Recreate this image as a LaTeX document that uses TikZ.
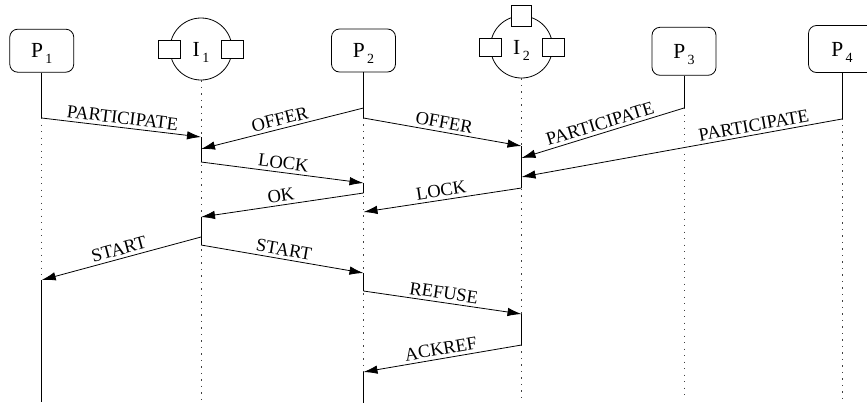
\documentclass[tikz,border=0pt]{standalone}
\usepackage{fontspec}
\setmainfont{Liberation Serif}
\usetikzlibrary{arrows.meta}

% actor name with a lowered index
\newcommand\actorname[2]{#1\kern2.5pt\smash{\raisebox{-6pt}{\fontsize{14}{14}\selectfont #2}}}

\begin{document}
\begin{tikzpicture}[x=1pt,y=-1pt,
  pbox/.style={draw, rounded corners=8pt, line width=0.8pt, minimum width=64pt,
               inner sep=0pt, font=\fontsize{21.5}{23}\selectfont},
  ibody/.style={draw, circle, line width=0.8pt, minimum size=62pt, inner sep=0pt,
               font=\fontsize{21.5}{23}\selectfont},
  port/.style={draw, fill=white, line width=0.8pt, minimum width=22pt,
               minimum height=18pt, inner sep=0pt},
  life/.style={line width=0.8pt, dash pattern=on 1.2pt off 5.3pt, black!75},
  active/.style={line width=0.8pt},
  msg/.style={line width=0.8pt, -{Latex[length=14pt,width=8.5pt]}},
  lbl/.style={sloped, above, inner sep=3pt, font=\fontsize{18.5}{20}\selectfont}
]
\useasboundingbox (0,0) rectangle (867,405);

% heads of the lifelines
\node[pbox, minimum height=43pt] (P1) at (41.75,50.7) {\actorname{P}{1}};
\node[pbox, minimum height=43pt] (P2) at (363.5,50.5) {\actorname{P}{2}};
\node[pbox, minimum height=48pt] (P3) at (684,51.3) {\actorname{P}{3}};
\node[pbox, minimum height=47pt, minimum width=67pt] (P4) at (842,49) {\actorname{P}{4}};

\node[ibody] (I1) at (201,49) {\actorname{I}{1}};
\node[port] (I1l) at (I1.west) {};
\node[port] (I1r) at (I1.east) {};

\node[ibody] (I2) at (521.5,47) {\actorname{I}{2}};
\node[port] (I2l) at (I2.west) {};
\node[port] (I2r) at (I2.east) {};
\node[port, minimum width=20pt, minimum height=21pt] (I2t) at (I2.north) {};

% events on the lifelines
\coordinate (p1a) at (41.75,118);
\coordinate (p1b) at (41.75,280);
\coordinate (p1z) at (41.75,402);

\coordinate (i1a) at (201,137);
\coordinate (i1b) at (201,149);
\coordinate (i1c) at (201,162);
\coordinate (i1d) at (201,217);
\coordinate (i1e) at (201,237);
\coordinate (i1f) at (201,245);
\coordinate (i1z) at (201,401);

\coordinate (p2a) at (363.5,108);
\coordinate (p2b) at (363.5,118);
\coordinate (p2c) at (363.5,183);
\coordinate (p2d) at (363.5,193);
\coordinate (p2e) at (363.5,212);
\coordinate (p2f) at (363.5,273);
\coordinate (p2g) at (363.5,291);
\coordinate (p2h) at (363.5,372);
\coordinate (p2z) at (363.5,403);

\coordinate (i2a) at (521.5,146);
\coordinate (i2b) at (521.5,158);
\coordinate (i2c) at (521.5,177);
\coordinate (i2d) at (521.5,188);
\coordinate (i2e) at (521.5,314);
\coordinate (i2f) at (521.5,345);
\coordinate (i2z) at (521.5,400);

\coordinate (p3a) at (684,108);
\coordinate (p3z) at (684,398);
\coordinate (p4a) at (842,119);
\coordinate (p4z) at (842,398);

% dotted lifelines
\draw[life] (P1.south) -- (p1z);
\draw[life] (I1.south) -- (i1z);
\draw[life] (P2.south) -- (p2z);
\draw[life] (I2.south) -- (i2z);
\draw[life] (P3.south) -- (p3z);
\draw[life] (P4.south) -- (p4z);

% active stretches
\draw[active] (P1.south) -- (p1a);
\draw[active] (p1b) -- (p1z);
\draw[active] (i1a) -- (i1c);
\draw[active] (i1d) -- (i1f);
\draw[active] (P2.south) -- (p2b);
\draw[active] (p2c) -- (p2d);
\draw[active] (p2f) -- (p2g);
\draw[active] (p2h) -- (p2z);
\draw[active] (i2a) -- (i2d);
\draw[active] (i2e) -- (i2f);
\draw[active] (P3.south) -- (p3a);
\draw[active] (P4.south) -- (p4a);

% messages
\draw[msg] (p1a) -- node[lbl] {PARTICIPATE} (i1a);
\draw[msg] (p2a) -- node[lbl] {OFFER} (i1b);
\draw[msg] (p2b) -- node[lbl] {OFFER} (i2a);
\draw[msg] (i1c) -- node[lbl] {LOCK} (p2c);
\draw[msg] (p2d) -- node[lbl] {OK} (i1d);
\draw[msg] (p3a) -- node[lbl] {PARTICIPATE} (i2b);
\draw[msg] (p4a) -- node[lbl, pos=0.27] {PARTICIPATE} (i2c);
\draw[msg] (i2d) -- node[lbl] {LOCK} (p2e);
\draw[msg] (i1e) -- node[lbl] {START} (p1b);
\draw[msg] (i1f) -- node[lbl] {START} (p2f);
\draw[msg] (p2g) -- node[lbl] {REFUSE} (i2e);
\draw[msg] (i2f) -- node[lbl] {ACKREF} (p2h);
\end{tikzpicture}
\end{document}
